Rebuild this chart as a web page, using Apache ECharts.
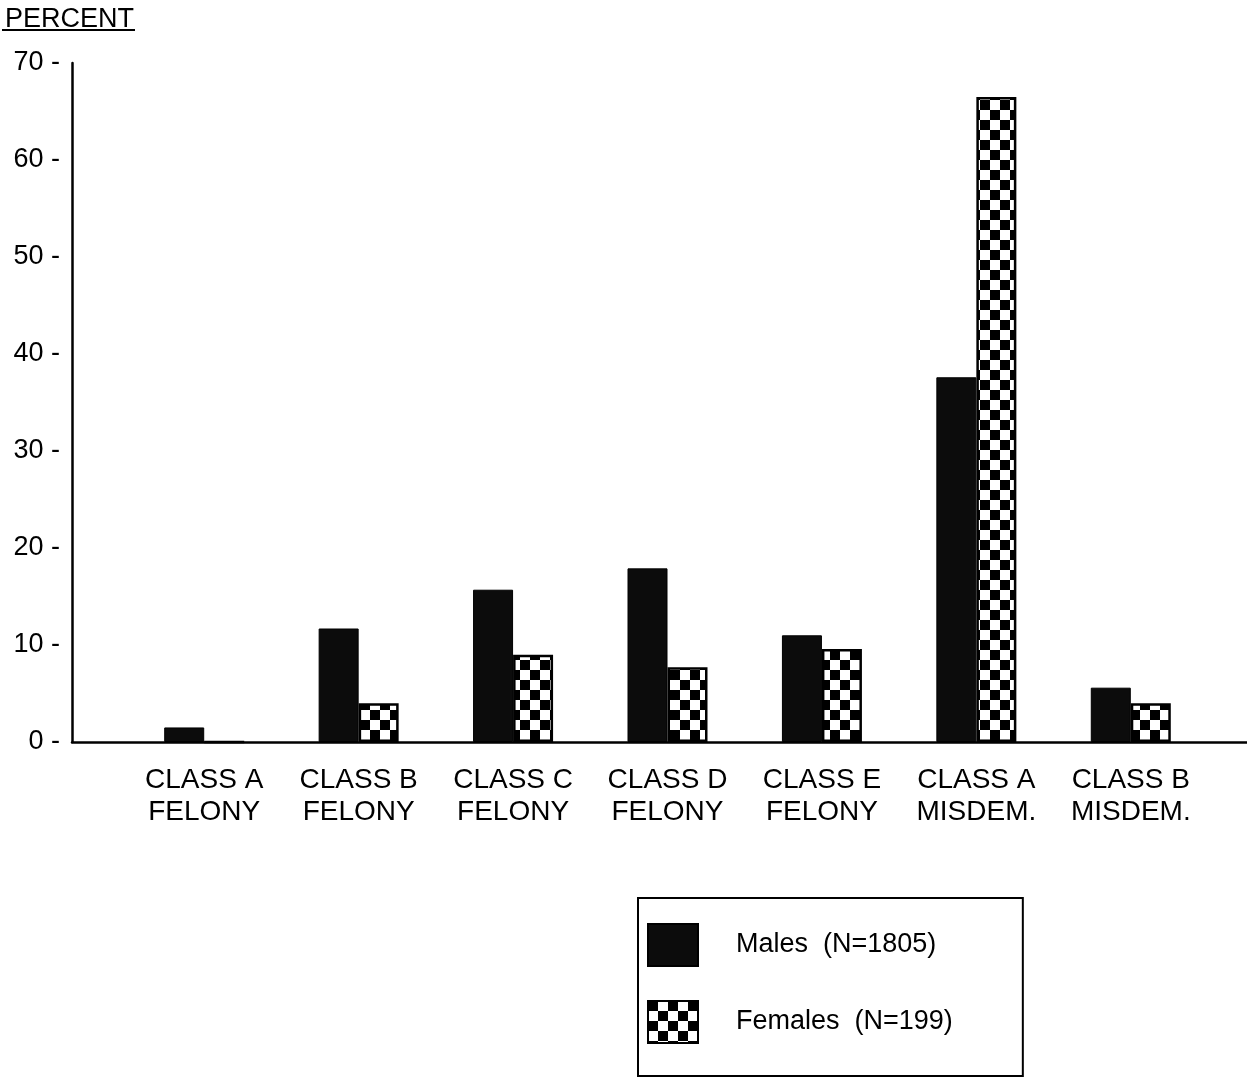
<!DOCTYPE html>
<html>
<head>
<meta charset="utf-8">
<script src="https://cdn.jsdelivr.net/npm/echarts@6/dist/echarts.min.js"></script>
<style>
html,body{margin:0;padding:0;background:#fff;}
#chart{width:1247px;height:1081px;}
</style>
</head>
<body>
<div id="chart"></div>
<script>
// ---- Data ----
const categories = ['CLASS A\nFELONY', 'CLASS B\nFELONY', 'CLASS C\nFELONY', 'CLASS D\nFELONY', 'CLASS E\nFELONY', 'CLASS A\nMISDEM.', 'CLASS B\nMISDEM.'];
const malesValues = [1.5, 11.7, 15.7, 17.9, 11.0, 37.6, 5.6];
const femalesValues = [0, 4.0, 9.0, 7.7, 9.6, 66.5, 4.0];
const seriesNames = ['Males  (N=1805)', 'Females  (N=199)'];
const yTicks = [0, 10, 20, 30, 40, 50, 60, 70];

// checkerboard pattern
const cell = 10;
const pc = document.createElement('canvas');
pc.width = cell * 2; pc.height = cell * 2;
const g = pc.getContext('2d');
g.fillStyle = '#fff'; g.fillRect(0, 0, cell * 2, cell * 2);
g.fillStyle = '#000';
g.fillRect(0, 0, cell, cell);
g.fillRect(cell, cell, cell, cell);
const checker = { image: pc, repeat: 'repeat' };

const FONT = '"Liberation Sans", Arial, Helvetica, sans-serif';
const TOP = 63, BOTTOM = 339;

const chart = echarts.init(document.getElementById('chart'), null, { renderer: 'canvas' });
chart.setOption({
  backgroundColor: '#fff',
  animation: false,
  textStyle: { fontFamily: FONT, color: '#000' },
  title: {
    text: 'PERCENT', left: 0, top: 1,
    textStyle: { fontFamily: FONT, fontSize: 27, fontWeight: 'normal', color: '#000' }
  },
  graphic: [{
    type: 'line', shape: { x1: 2, y1: 30, x2: 135, y2: 30 },
    style: { stroke: '#000', lineWidth: 2 }
  }],
  legend: {
    orient: 'vertical', left: 638, top: 898,
    data: seriesNames,
    itemWidth: 50, itemHeight: 42, itemGap: 33,
    padding: [25, 70, 32, 9],
    borderColor: '#000', borderWidth: 2,
    icon: 'rect',
    textStyle: { fontFamily: FONT, fontSize: 27, color: '#000', padding: [0, 0, 0, 33] }
  },
  grid: [
    { left: 127, right: 39, top: TOP, bottom: BOTTOM },
    { left: 72, right: 0, top: TOP, bottom: BOTTOM }
  ],
  xAxis: [
    {
      type: 'category', gridIndex: 0, data: categories,
      axisLine: { show: false }, axisTick: { show: false },
      axisLabel: { fontFamily: FONT, fontSize: 28, color: '#000', lineHeight: 32, margin: 22, interval: 0 }
    },
    {
      type: 'value', gridIndex: 1, min: 0, max: 1,
      axisLine: { show: true, lineStyle: { color: '#000', width: 2.5 } },
      axisTick: { show: false }, axisLabel: { show: false }, splitLine: { show: false }
    }
  ],
  yAxis: [
    {
      type: 'value', gridIndex: 0, min: 0, max: 70, interval: 10,
      axisLine: { show: false }, axisTick: { show: false }, axisLabel: { show: false }, splitLine: { show: false }
    },
    {
      type: 'value', gridIndex: 1, min: yTicks[0], max: yTicks[yTicks.length - 1], interval: 10,
      axisLine: { show: true, lineStyle: { color: '#000', width: 2.5 } },
      axisTick: { show: false },
      splitLine: { show: false },
      axisLabel: { fontFamily: FONT, fontSize: 27, color: '#000', margin: 12, formatter: '{value} -' }
    }
  ],
  series: [
    {
      name: seriesNames[0], type: 'bar', xAxisIndex: 0, yAxisIndex: 0,
      data: malesValues, barWidth: 40, barGap: '0%',
      itemStyle: { color: '#0c0c0c', borderColor: '#000', borderWidth: 1 }
    },
    {
      name: seriesNames[1], type: 'bar', xAxisIndex: 0, yAxisIndex: 0,
      data: femalesValues, barWidth: 40, barGap: '0%',
      itemStyle: { color: checker, borderColor: '#000', borderWidth: 2.5 }
    }
  ]
});
</script>
</body>
</html>
